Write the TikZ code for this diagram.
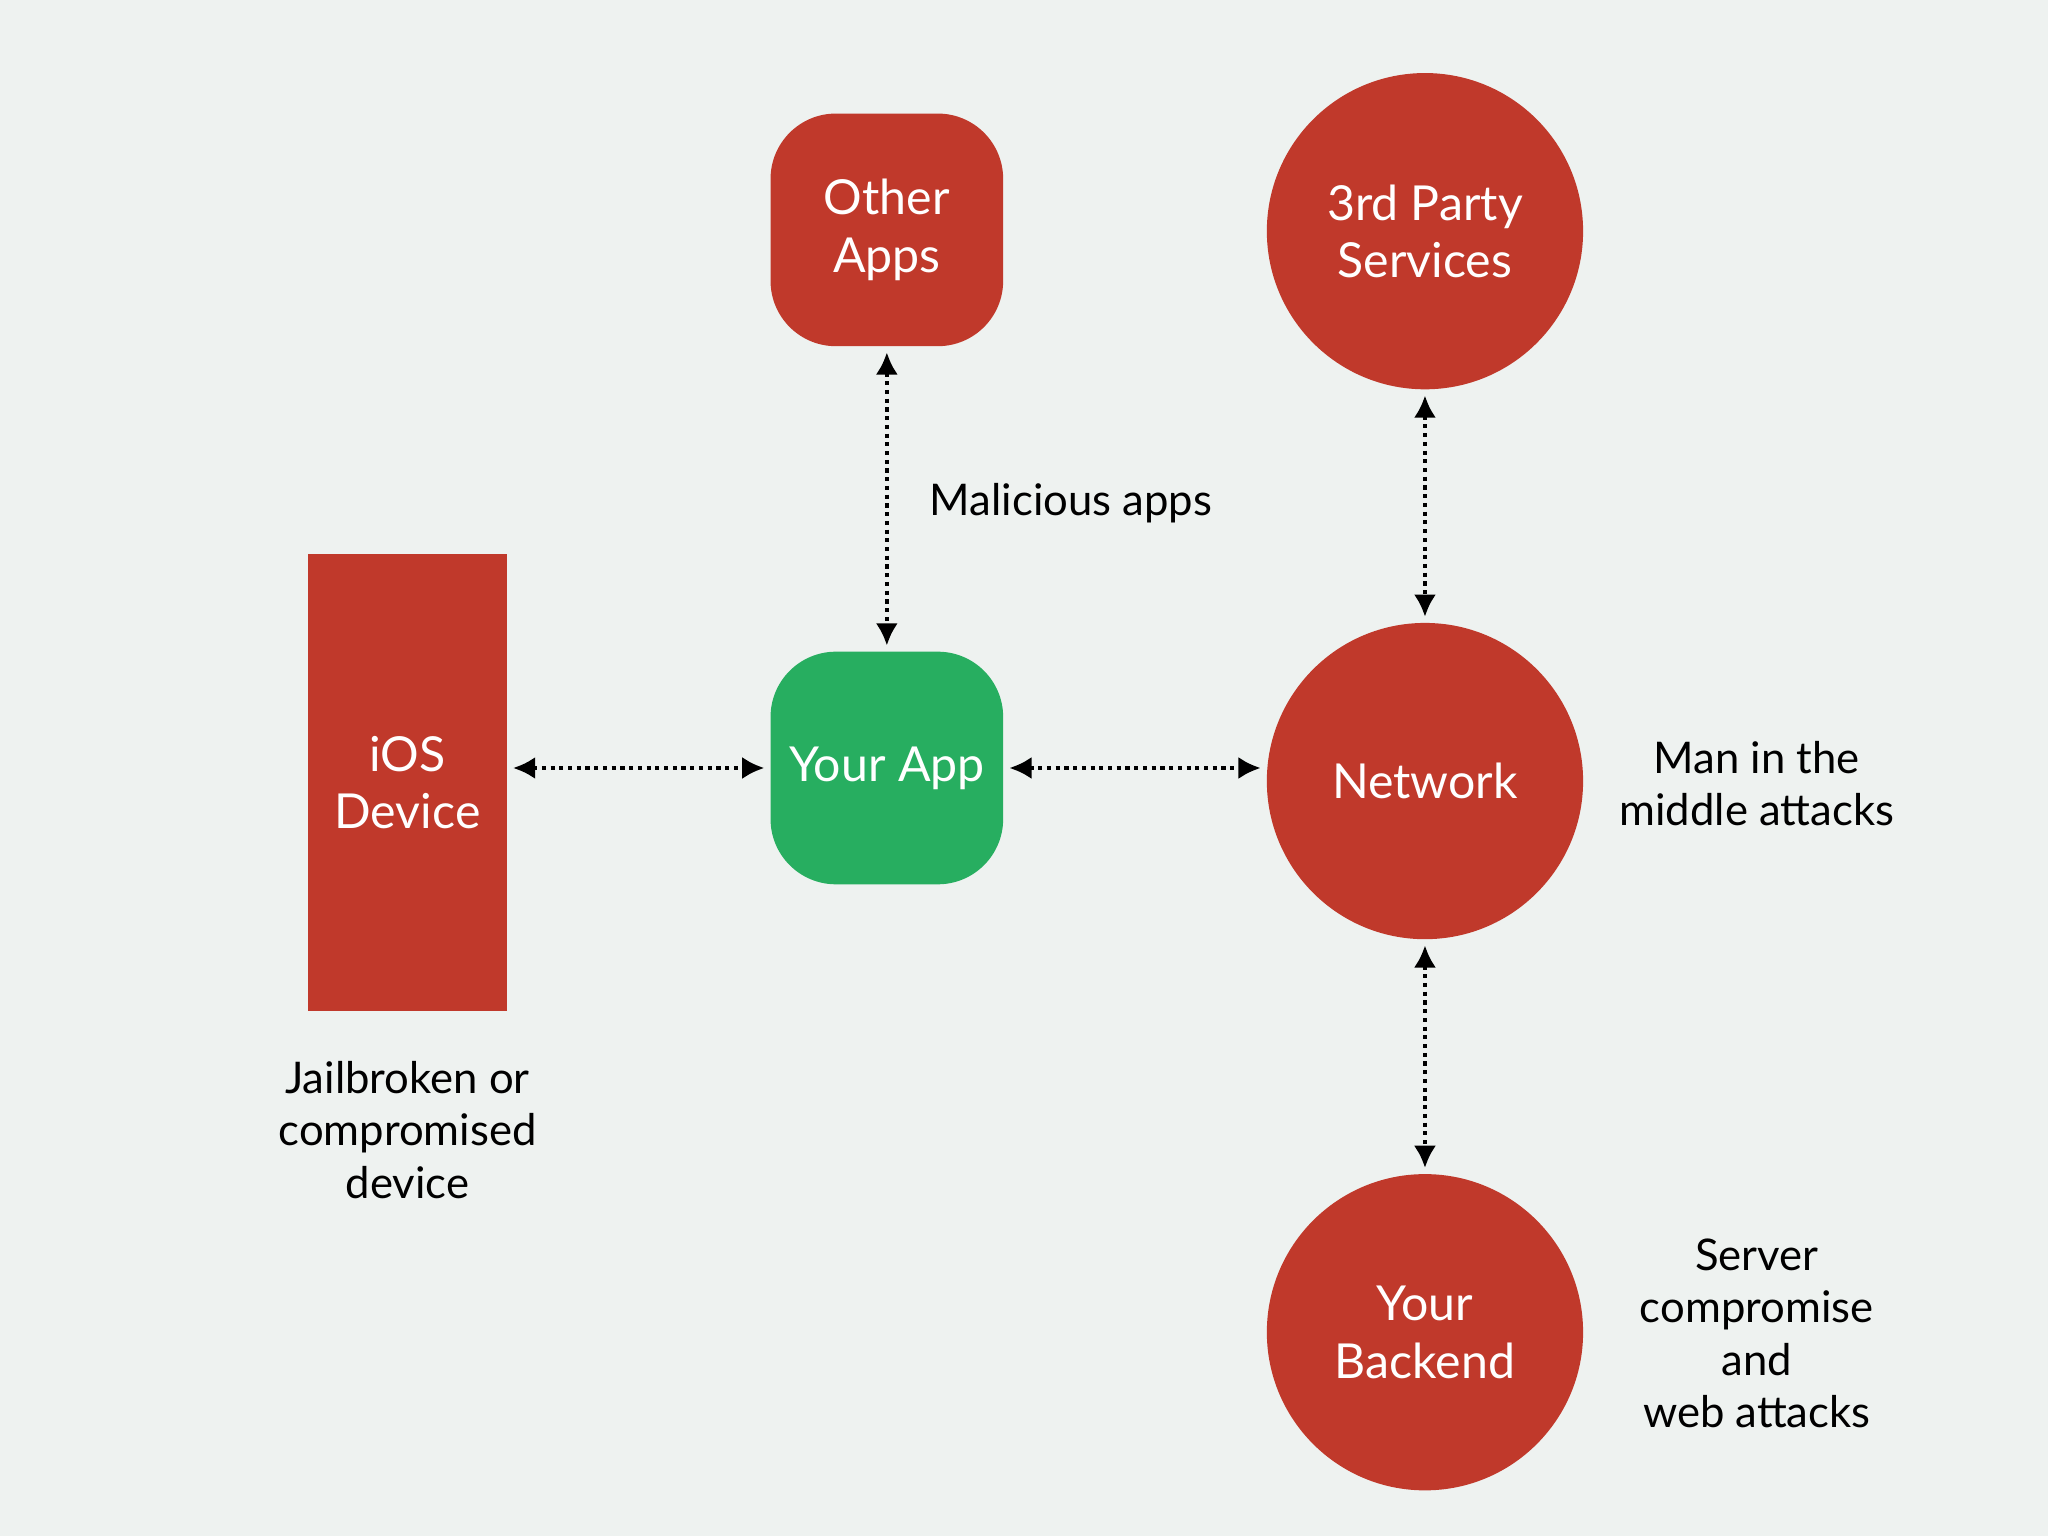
\documentclass[tikz,border=0pt]{standalone}
\usepackage{fontspec}
\setmainfont{Lato}
\usetikzlibrary{arrows.meta}
\definecolor{bgcol}{HTML}{EEF2F0}
\definecolor{redbox}{HTML}{C0392B}
\definecolor{greenbox}{HTML}{27AE60}
\tikzset{
  threat/.style={fill=redbox, draw=none, text=white, align=center, font=\fontsize{10.5}{12.5}\selectfont},
  roundbox/.style={threat, rounded corners=0.5cm, minimum width=1.78cm, minimum height=1.78cm},
  bubble/.style={threat, circle, minimum size=2.42cm, inner sep=0pt},
  note/.style={align=center, font=\fontsize{9.5}{11.4}\selectfont},
  link/.style={densely dotted, line width=0.9pt, {Latex[length=0.17cm,width=0.17cm]}-{Latex[length=0.17cm,width=0.17cm]}, shorten <=0.04cm, shorten >=0.04cm}
}
\begin{document}
\begin{tikzpicture}[x=0.01cm,y=-0.01cm]
\fill[bgcol] (0,0) rectangle (1568,1176);
\useasboundingbox (0,0) rectangle (1568,1176);

% Boxes
\node[roundbox] (other) at (679,176) {Other\\Apps};
\node[roundbox, fill=greenbox] (app) at (679,588) {Your App};
\node[threat, minimum width=1.52cm, minimum height=3.5cm] (ios) at (312,599) {iOS\\Device};

% Circles
\node[bubble] (third) at (1091,177) {3rd Party\\Services};
\node[bubble] (net) at (1091,598) {Network};
\node[bubble] (backend) at (1091,1020) {Your\\Backend};

% Links
\draw[link] (other) -- (app);
\draw[link] (ios.east |- app) -- (app);
\draw[link] (app) -- (net.west |- app);
\draw[link] (third) -- (net);
\draw[link] (net) -- (backend);

% Notes
\node[note] (malicious) at (820,385) {Malicious apps};
\node[note] (mitm) at (1345,600) {Man in the\\middle attacks};
\node[note] (jail) at (312,865) {Jailbroken or\\compromised\\device};
\node[note] (server) at (1345,1021) {Server\\compromise\\and\\web attacks};
\end{tikzpicture}
\end{document}
